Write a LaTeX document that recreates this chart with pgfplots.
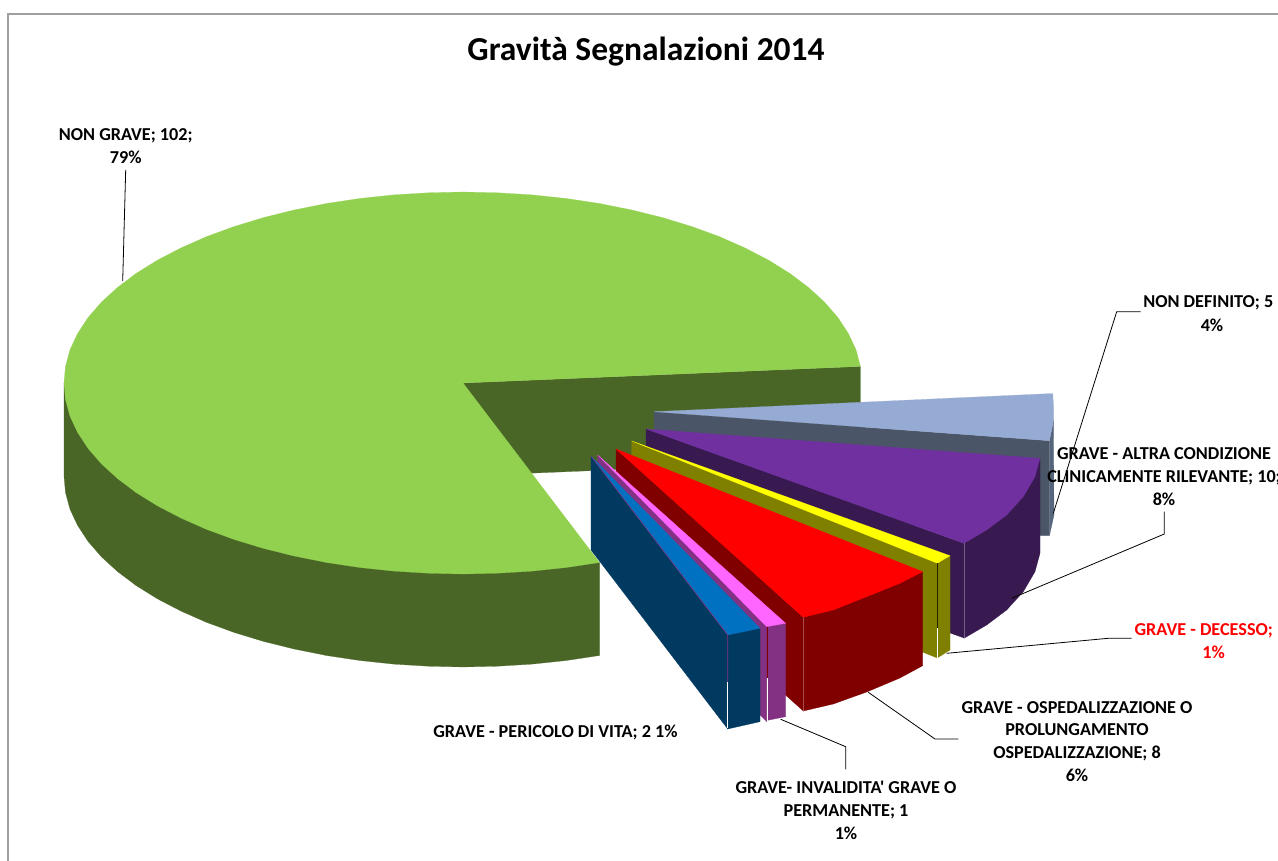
\documentclass[border=0pt]{standalone}
\usepackage{pgfplots}
\pgfplotsset{compat=1.18}
\usepackage{fontspec}
\setmainfont[Ligatures=TeXOff]{Carlito}
\definecolor{grn}{HTML}{92D050}\definecolor{grnD}{HTML}{4A6627}
\definecolor{slate}{HTML}{95ABD3}\definecolor{slateD}{HTML}{4B5568}\definecolor{slateE}{HTML}{55657C}
\definecolor{purp}{HTML}{7030A0}\definecolor{purpD}{HTML}{381950}
\definecolor{yel}{HTML}{FFFF00}\definecolor{yelD}{HTML}{808000}
\definecolor{rd}{HTML}{FF0000}\definecolor{rdD}{HTML}{800000}
\definecolor{mag}{HTML}{FF66FF}\definecolor{magD}{HTML}{833283}
\definecolor{blu}{HTML}{0070C0}\definecolor{bluD}{HTML}{003A60}
\definecolor{frame}{HTML}{A0A0A0}
\tikzset{
  face/.style={fill=#1,draw=#1,line width=0.2pt},
  lead/.style={draw=black,line width=0.8pt},
  lbl/.style={anchor=base,inner sep=0pt,font=\fontsize{18.2}{22}\selectfont\bfseries,text=black},
}
\begin{document}
\begin{tikzpicture}
\useasboundingbox (0,0) rectangle (1278pt,861pt);
\clip (0,0) rectangle (1278pt,861pt);
\begin{axis}[
  width=1278pt,height=861pt,scale only axis,
  xmin=0,xmax=1278,ymin=0,ymax=861,y dir=reverse,
  hide axis,clip=false,
]
% chart frame
\addplot[draw=frame,line width=1.3pt] coordinates {(8,861) (8,14) (1278,14)};

% NON GRAVE: walls first, top surface over them
\addplot[face=grnD] coordinates {(463,383) (860.4,366.4) (860.4,459.5) (463,476)} --cycle;
\addplot[face=grnD] coordinates {(64,383) (64,476) (65.5,492.6) (70,509.2) (77.6,525.4) (88,541.3) (101.4,556.8) (117.5,571.5) (136.2,585.6) (157.4,598.8) (180.9,611) (206.4,622.3) (234,632.4) (263.5,641.4) (294.2,649) (326.5,655.5) (359.7,660.5) (393.7,664.1) (428.2,666.2) (463,667) (497.8,666.2) (532.3,664.1) (566.3,660.5) (599.5,655.5) (599.5,562.5)} --cycle;
\addplot[face=grn] coordinates {(463,383) (860.4,366.4) (856,349.8) (848.4,333.6) (838,317.7) (824.6,302.2) (808.5,287.5) (789.8,273.4) (768.6,260.2) (745.1,248) (719.6,236.7) (692,226.6) (662.5,217.6) (631.8,210) (599.5,203.5) (566.3,198.5) (532.3,194.9) (497.8,192.8) (463,192) (428.2,192.8) (393.7,194.9) (359.7,198.5) (326.5,203.5) (294.2,210) (263.5,217.6) (234,226.6) (206.4,236.7) (180.9,248) (157.4,260.2) (136.2,273.4) (117.5,287.5) (101.4,302.2) (88,317.7) (77.6,333.6) (70,349.8) (65.5,366.4) (64,383) (65.5,399.6) (70,416.2) (77.6,432.4) (88,448.3) (101.4,463.8) (117.5,478.5) (136.2,492.6) (157.4,505.8) (180.9,518) (206.4,529.3) (234,539.4) (263.5,548.4) (294.2,556) (326.5,562.5) (359.7,567.5) (393.7,571.1) (428.2,573.2) (463,574) (497.8,573.2) (532.3,571.1) (566.3,567.5) (599.5,562.5)} --cycle;

% NON DEFINITO
\addplot[face=slateE] coordinates {(1049.5,441) (1053.5,420) (1054,515) (1049.5,535.5)} --cycle;
\addplot[face=slateD] coordinates {(654,411.7) (1049.3,440.7) (1049.3,535.5) (1040,535.5) (654,505)} --cycle;
\addplot[face=slate] coordinates {(654,411.7) (1052.7,393.5) (1053.5,405) (1053.5,420) (1052,428) (1049.3,440.7)} --cycle;

% GRAVE - ALTRA CONDIZIONE CLINICAMENTE RILEVANTE
\addplot[face=purpD] coordinates {(646,429) (964,543.3) (964,638) (646,524)} --cycle;
\addplot[face=purpD] coordinates {(1040,458.3) (1040,553.3) (1035,571.7) (1023.3,591.7) (1006.7,610) (986.7,625) (964,638.3) (964,543.3)} --cycle;
\addplot[face=purp] coordinates {(646,429) (1040,458.3) (1035,476.7) (1023.3,496.7) (1006.7,515) (986.7,530) (964,543.3)} --cycle;
\addplot[draw=purpD!70!white,line width=0.5pt] coordinates {(964,543.3) (964,638)};

% GRAVE - DECESSO
\addplot[face=yelD] coordinates {(631.7,441) (937.3,563.3) (937.3,658) (631.7,535)} --cycle;
\addplot[face=yelD] coordinates {(937.3,563.3) (950,555.7) (950,650) (937.3,658)} --cycle;
\addplot[face=yel] coordinates {(631.7,441) (950,555.7) (937.3,563.3)} --cycle;
\addplot[draw=black!70!yelD,line width=0.6pt] coordinates {(937.3,563.3) (937.3,628)};
\addplot[draw=white,line width=0.8pt] coordinates {(937.3,628) (937.3,658)};

% GRAVE - OSPEDALIZZAZIONE O PROLUNGAMENTO OSPEDALIZZAZIONE
\addplot[face=rdD] coordinates {(616,449) (803.3,617.3) (803.3,711) (616,543)} --cycle;
\addplot[face=rdD] coordinates {(922.7,571.7) (922.7,665.7) (900,678) (866.7,692) (833.3,704) (803.3,711) (803.3,617.3)} --cycle;
\addplot[face=rd] coordinates {(616,449) (922.7,571.7) (900,583.3) (866.7,596.7) (833.3,610) (803.3,617.3)} --cycle;
\addplot[draw=rdD!70!white,line width=0.5pt] coordinates {(803.3,617.3) (803.3,711)};

% GRAVE - INVALIDITA' GRAVE O PERMANENTE
\addplot[face=magD] coordinates {(597.7,455) (766.7,626.7) (766.7,721.7) (761,716) (597.7,550)} --cycle;
\addplot[face=magD] coordinates {(766.7,626.7) (785.7,623.3) (785.7,716.7) (766.7,720.5)} --cycle;
\addplot[face=mag] coordinates {(597.7,455) (785.7,623.3) (766.7,626.7)} --cycle;
\addplot[draw=rdD,line width=0.6pt] coordinates {(766.9,626.7) (766.9,678)};
\addplot[draw=white,line width=0.8pt] coordinates {(766.9,678) (766.9,720.5)};

% GRAVE - PERICOLO DI VITA
\addplot[face=bluD] coordinates {(591,456) (727.7,635) (727.7,729) (591,550)} --cycle;
\addplot[face=bluD] coordinates {(727.7,635) (760,628.3) (760,721.7) (727.7,729)} --cycle;
\addplot[face=blu] coordinates {(591,456) (760,628.3) (727.7,635)} --cycle;
\addplot[draw=magD,line width=0.6pt] coordinates {(591,456) (727.7,635) (727.7,682)};
\addplot[draw=white,line width=0.8pt] coordinates {(727.7,682) (727.7,728)};

% leader lines
\addplot[lead] coordinates {(125.7,170) (122.7,281)};
\addplot[lead] coordinates {(1140.7,311.7) (1116.7,311.7) (1053.3,513.3)};
\addplot[lead] coordinates {(1164.3,511.7) (1164.3,534) (1011.7,598.3)};
\addplot[lead] coordinates {(1131.7,638.3) (1108.3,638.3) (946.7,653.3)};
\addplot[lead] coordinates {(958.3,739) (935,739) (868.3,692.3)};
\addplot[lead] coordinates {(845.7,769.3) (845.7,746.7) (780.7,719.3)};

% title and data labels
\node[anchor=base,inner sep=0pt,font=\fontsize{33.5}{40}\selectfont\bfseries] at (axis cs:646,61) {Gravità Segnalazioni 2014};
\node[lbl] at (axis cs:125.8,141) {NON GRAVE; 102;};
\node[lbl] at (axis cs:125.8,163.5) {79\%};
\node[lbl] at (axis cs:1208.3,308) {NON DEFINITO; 5};
\node[lbl] at (axis cs:1212,331) {4\%};
\node[lbl] at (axis cs:1164,459) {GRAVE - ALTRA CONDIZIONE};
\node[lbl] at (axis cs:1164,482) {CLINICAMENTE RILEVANTE; 10;};
\node[lbl] at (axis cs:1164,505) {8\%};
\node[lbl,text=red] at (axis cs:1203.8,635) {GRAVE - DECESSO;};
\node[lbl,text=red] at (axis cs:1213.6,658) {1\%};
\node[lbl] at (axis cs:1077,713) {GRAVE - OSPEDALIZZAZIONE O};
\node[lbl] at (axis cs:1077,735.5) {PROLUNGAMENTO};
\node[lbl] at (axis cs:1077,758.5) {OSPEDALIZZAZIONE; 8};
\node[lbl] at (axis cs:1077,781.5) {6\%};
\node[lbl] at (axis cs:846,793) {GRAVE- INVALIDITA' GRAVE O};
\node[lbl] at (axis cs:846,816) {PERMANENTE; 1};
\node[lbl] at (axis cs:846,839) {1\%};
\node[lbl] at (axis cs:555.5,737) {GRAVE - PERICOLO DI VITA; 2 1\%};
\end{axis}
\end{tikzpicture}
\end{document}
